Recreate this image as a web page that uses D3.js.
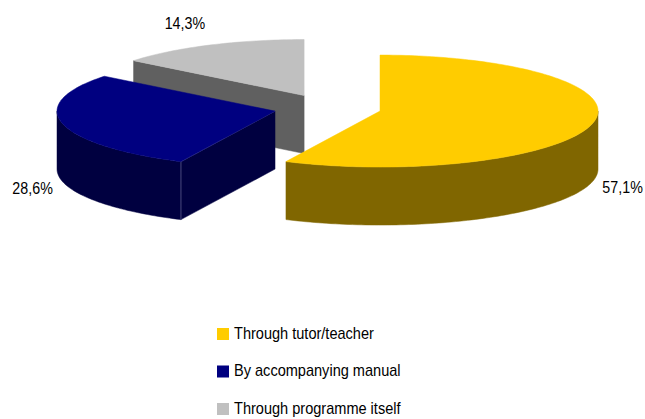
<!DOCTYPE html>
<html>
<head>
<meta charset="utf-8">
<script src="https://cdn.jsdelivr.net/npm/d3@7"></script>
<style>
  html, body { margin: 0; padding: 0; background: #fff; }
  svg { display: block; }
  text { font-family: "Liberation Sans", Arial, sans-serif; fill: #000; }
</style>
</head>
<body>
<svg id="chart" width="645" height="419"></svg>
<script>
// Shares of how users learned to use the programme
const categories = ["Through tutor/teacher", "By accompanying manual", "Through programme itself"];
const values = [57.1, 28.6, 14.3];
const valueLabels = ["57,1%", "28,6%", "14,3%"];
const topColors = ["#FFCC00", "#000080", "#C0C0C0"];
const sideColors = ["#806600", "#000040", "#606060"];

const svg = d3.select("#chart");

// 3D pie geometry
const cx = 327.5, cy = 108;   // centre of the un-exploded top face
const rx = 218, ry = 56;      // ellipse radii of the top face
const depth = 58;             // thickness of the pie
const explode = 0.247;        // slice offset as a fraction of the radius

const pie = d3.pie().sort(null).value(d => d);
const arcs = pie(values).map((a, i) => {
  const mid = (a.startAngle + a.endAngle) / 2;
  return {
    ...a, i, mid,
    ox: cx + explode * rx * Math.sin(mid),
    oy: cy - explode * ry * Math.cos(mid)
  };
});

// projected point on the rim of a slice, clockwise angle from 12 o'clock
const pt = (s, t, dz = 0) => [s.ox + rx * Math.sin(t), s.oy - ry * Math.cos(t) + dz];

function arcPoints(s, a0, a1, dz = 0) {
  const n = Math.max(2, Math.ceil(Math.abs(a1 - a0) / 0.02));
  return d3.range(n + 1).map(k => pt(s, a0 + (a1 - a0) * k / n, dz));
}

const line = d3.line();

// back-to-front drawing order
const order = arcs.slice().sort((a, b) => a.oy - b.oy);

order.forEach(s => {
  const g = svg.append("g");
  const c = [s.ox, s.oy];
  const cb = [s.ox, s.oy + depth];

  // radial faces facing the viewer
  const faces = [];
  if (Math.sin(s.startAngle) < -1e-6) faces.push(s.startAngle);
  if (Math.sin(s.endAngle) > 1e-6) faces.push(s.endAngle);
  faces.forEach(t => {
    const p = pt(s, t), pb = pt(s, t, depth);
    g.append("path")
      .attr("d", line([c, p, pb, cb]) + "Z")
      .attr("fill", sideColors[s.i])
      .attr("stroke", sideColors[s.i])
      .attr("stroke-width", 0.5);
  });

  // visible part of the outer wall (front half of the ellipse)
  const w0 = Math.max(s.startAngle, Math.PI / 2);
  const w1 = Math.min(s.endAngle, 3 * Math.PI / 2);
  if (w1 > w0) {
    const topRim = arcPoints(s, w0, w1);
    const botRim = arcPoints(s, w1, w0, depth);
    g.append("path")
      .attr("d", line(topRim.concat(botRim)) + "Z")
      .attr("fill", sideColors[s.i])
      .attr("stroke", sideColors[s.i])
      .attr("stroke-width", 0.5);
  }

  // light edge lines where the visible faces of the blue slice meet
  faces.forEach(t => {
    const p = pt(s, t), pb = pt(s, t, depth);
    g.append("path")
      .attr("d", line([c, p, pb]))
      .attr("fill", "none")
      .attr("stroke", "#8080b0")
      .attr("stroke-opacity", s.i === 1 ? 0.8 : 0)
      .attr("stroke-width", 0.7);
  });

  // top face
  g.append("path")
    .attr("d", line([c].concat(arcPoints(s, s.startAngle, s.endAngle))) + "Z")
    .attr("fill", topColors[s.i])
    .attr("stroke", topColors[s.i])
    .attr("stroke-width", 0.5);
});

// value labels beside each slice
const labelScale = 0.84;
arcs.forEach(s => {
  const sn = Math.sin(s.mid), cs = Math.cos(s.mid);
  const x = s.ox + sn * (rx + 10);
  const y = s.oy - cs * ry + (cs < 0 ? depth + 12 : -16);
  svg.append("text")
    .attr("transform", `translate(${x},${y}) scale(${labelScale},1)`)
    .attr("text-anchor", sn >= 0 ? "start" : "end")
    .attr("font-size", 17)
    .text(valueLabels[s.i]);
});

// legend
const legend = svg.append("g").attr("transform", "translate(217,328)");
const rowStep = 37.5;
categories.forEach((name, i) => {
  const row = legend.append("g").attr("transform", `translate(0,${i * rowStep})`);
  row.append("rect")
    .attr("width", 12).attr("height", 12)
    .attr("fill", topColors[i]);
  row.append("text")
    .attr("transform", `translate(17,10.5) scale(0.91,1)`)
    .attr("font-size", 16)
    .text(name);
});
</script>
</body>
</html>
